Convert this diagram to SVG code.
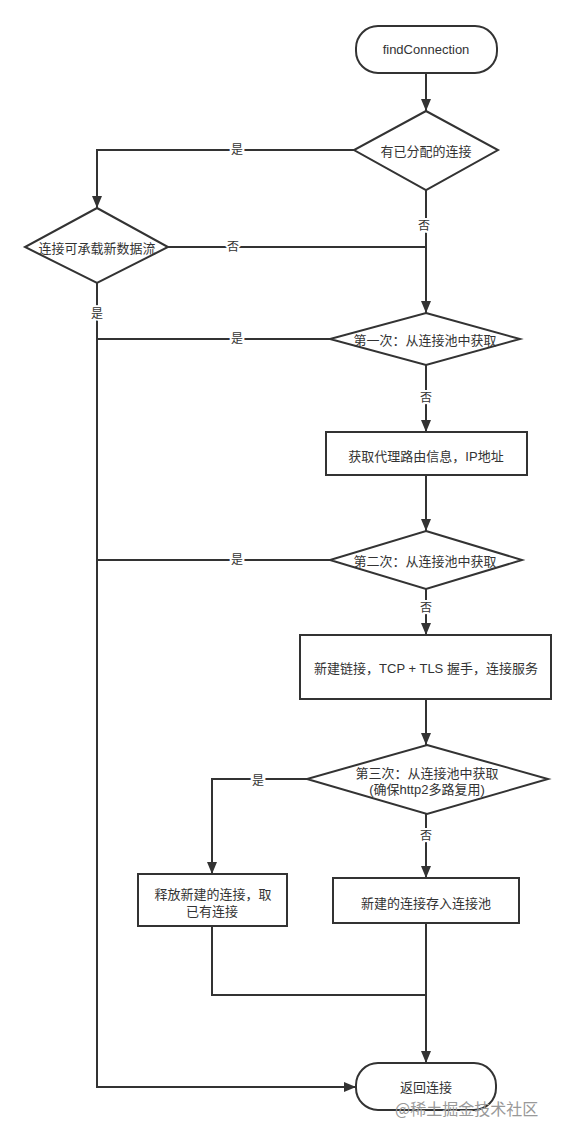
<svg xmlns="http://www.w3.org/2000/svg" width="576" height="1135" viewBox="0 0 576 1135">
<defs>
<marker id="arr" viewBox="0 0 12 10" refX="12" refY="5" markerWidth="12" markerHeight="10" markerUnits="userSpaceOnUse" orient="auto">
<path d="M0,0 L12,5 L0,10 z" fill="#333"/>
</marker>
<style>
.shape{fill:#fff;stroke:#333;stroke-width:2}
.t{font-family:"Liberation Sans","Noto Sans CJK SC",sans-serif;font-size:13px;fill:#333;text-anchor:middle;dominant-baseline:central}
.lbl{font-family:"Liberation Sans","Noto Sans CJK SC",sans-serif;font-size:12px;fill:#333;text-anchor:middle;dominant-baseline:central;stroke:#fff;stroke-width:4;paint-order:stroke}
.c{fill:none;stroke:#333;stroke-width:2}
.ca{fill:none;stroke:#333;stroke-width:2;marker-end:url(#arr)}
</style>
</defs>
<rect width="576" height="1135" fill="#fff"/>
<g id="connectors">
<path class="ca" d="M426,73 V111"/>
<path class="ca" d="M354,150 H97 V208"/>
<path class="ca" d="M426,190 V313"/>
<path class="c" d="M168,247 H426"/>
<path class="ca" d="M97,283 V1087 H356"/>
<path class="c" d="M330,339 H97"/>
<path class="ca" d="M426,365 V432"/>
<path class="ca" d="M426,475 V531"/>
<path class="c" d="M330,560 H97"/>
<path class="ca" d="M426,589 V635"/>
<path class="ca" d="M426,699 V745"/>
<path class="ca" d="M307,779 H212 V874"/>
<path class="ca" d="M426,814 V878"/>
<path class="c" d="M212,926 V995 H426"/>
<path class="ca" d="M426,923 V1063"/>
<text class="lbl" x="237" y="150">是</text>
<text class="lbl" x="424" y="226">否</text>
<text class="lbl" x="233" y="247">否</text>
<text class="lbl" x="97" y="314">是</text>
<text class="lbl" x="237" y="339">是</text>
<text class="lbl" x="426" y="398">否</text>
<text class="lbl" x="237" y="560">是</text>
<text class="lbl" x="426" y="608">否</text>
<text class="lbl" x="258" y="781">是</text>
<text class="lbl" x="426" y="836">否</text>
</g>
<g id="start">
<rect class="shape" x="356" y="26" width="141" height="47" rx="22" ry="22"/>
<text class="t" x="426" y="49">findConnection</text>
</g>
<g id="d1">
<polygon class="shape" points="426,111 498,150 426,190 354,150"/>
<text class="t" x="426" y="151">有已分配的连接</text>
</g>
<g id="d2">
<polygon class="shape" points="97,208 168,247 97,283 25,247"/>
<text class="t" x="97" y="248">连接可承载新数据流</text>
</g>
<g id="d3">
<polygon class="shape" points="426,313 520,339 426,365 330,339"/>
<text class="t" x="425" y="340">第一次：从连接池中获取</text>
</g>
<g id="r1">
<rect class="shape" x="326" y="432" width="201" height="43"/>
<text class="t" x="426" y="456">获取代理路由信息，IP地址</text>
</g>
<g id="d4">
<polygon class="shape" points="426,531 522,560 426,589 330,560"/>
<text class="t" x="425" y="561">第二次：从连接池中获取</text>
</g>
<g id="r2">
<rect class="shape" x="300" y="635" width="251" height="64"/>
<text class="t" x="426" y="668">新建链接，TCP + TLS 握手，连接服务</text>
</g>
<g id="d5">
<polygon class="shape" points="427,745 548,779 427,814 307,779"/>
<text class="t" x="427" y="773">第三次：从连接池中获取</text>
<text class="t" x="427" y="789">(确保http2多路复用)</text>
</g>
<g id="r3">
<rect class="shape" x="138" y="874" width="149" height="52"/>
<text class="t" x="213" y="894">释放新建的连接，取</text>
<text class="t" x="212" y="911">已有连接</text>
</g>
<g id="r4">
<rect class="shape" x="333" y="878" width="186" height="45"/>
<text class="t" x="426" y="903">新建的连接存入连接池</text>
</g>
<g id="end">
<rect class="shape" x="356" y="1063" width="140" height="47" rx="22" ry="22"/>
<text class="t" x="426" y="1087">返回连接</text>
</g>
<text x="395" y="1115" font-family="'Noto Sans CJK SC',sans-serif" font-size="16" fill="#999">@稀土掘金技术社区</text>
</svg>
